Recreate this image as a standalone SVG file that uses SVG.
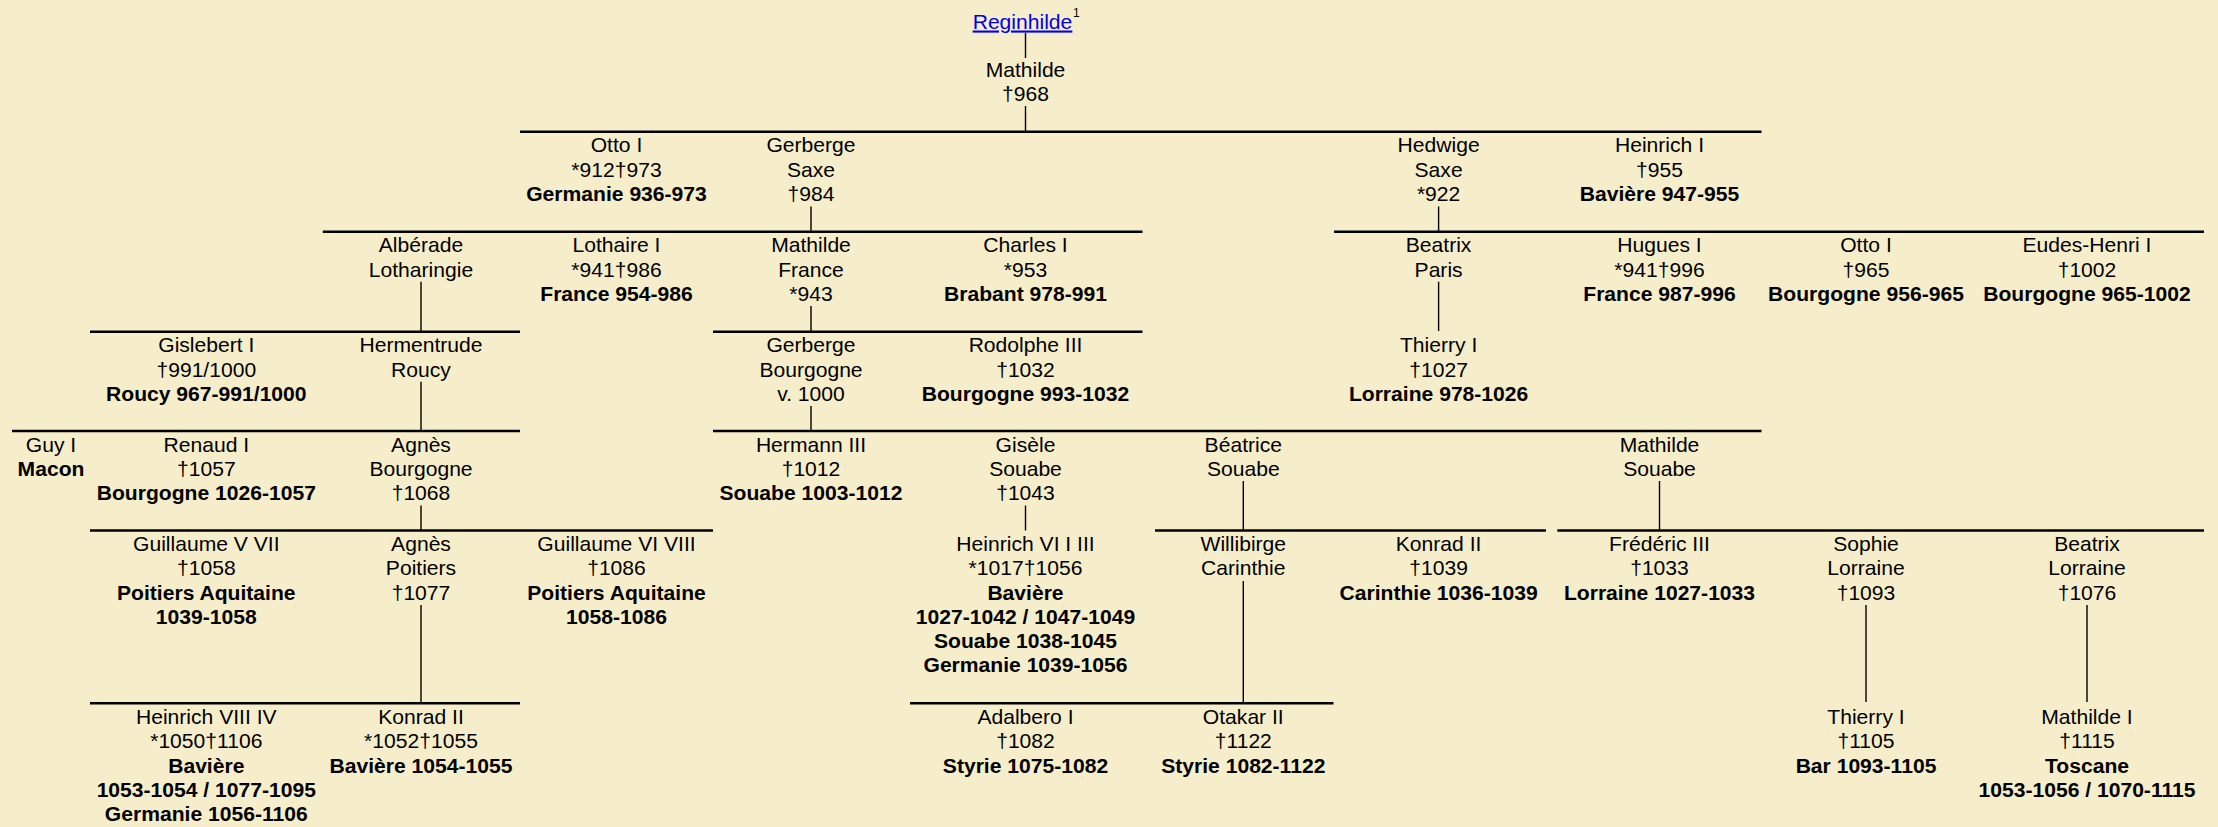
<svg xmlns="http://www.w3.org/2000/svg" width="2218" height="827" viewBox="0 0 2218 827">
<style>
text{font-family:"Liberation Sans",Arial,sans-serif;font-size:21.1px;fill:#000;text-anchor:middle}
.b{font-weight:bold}
.lk{fill:#0000EE;text-decoration:underline}
.sup{font-size:12px;text-anchor:start}
.h{stroke:#000;stroke-width:2.4;fill:none}
.v{stroke:#000;stroke-width:1.4;fill:none}
</style>
<rect width="2218" height="827" fill="#F6EECA"/>
<g id="connectors">
<path class="h" d="M520 131.7H1761.5M322.8 231.7H1142.5M1334 231.7H2204M90 331.7H520M713 331.7H1142.5M12 431H520M713 431H1761.5M90 530.5H713M1155 530.5H1546M1557.3 530.5H2204M90 703.3H520M910 703.3H1333.5"/>
<path class="v" d="M1025.5 33V58M1025.5 106V131.7M811 206.5V231.7M1438.6 206.5V231.7M421 281.7V331.7M811 306V331.7M1438.6 281.7V331M421 381.7V431M811 406V431M421 505.5V530.5M1025.5 505.5V530.5M1243.3 481V530.5M1659.5 481V530.5M421 605V703.3M1243.3 581V703.3M1866 605V702M2087 605V702"/>
</g>
<g id="reginhilde"><text x="1022.5" y="28.5" class="lk">Reginhilde</text><text x="1073" y="17" class="sup">1</text></g>
<g id="mathilde-968"><text x="1025.5" y="77">Mathilde</text><text x="1025.5" y="101.3">†968</text></g>
<g id="otto-i-germanie"><text x="616.5" y="152.4">Otto I</text><text x="616.5" y="176.6">*912†973</text><text x="616.5" y="200.9" class="b">Germanie 936-973</text></g>
<g id="gerberge-saxe"><text x="811" y="152.4">Gerberge</text><text x="811" y="176.6">Saxe</text><text x="811" y="200.9">†984</text></g>
<g id="hedwige-saxe"><text x="1438.6" y="152.4">Hedwige</text><text x="1438.6" y="176.6">Saxe</text><text x="1438.6" y="200.9">*922</text></g>
<g id="heinrich-i"><text x="1659.5" y="152.4">Heinrich I</text><text x="1659.5" y="176.6">†955</text><text x="1659.5" y="200.9" class="b">Bavière 947-955</text></g>
<g id="alberade"><text x="421" y="252.4">Albérade</text><text x="421" y="276.6">Lotharingie</text></g>
<g id="lothaire-i"><text x="616.5" y="252.4">Lothaire I</text><text x="616.5" y="276.6">*941†986</text><text x="616.5" y="300.9" class="b">France 954-986</text></g>
<g id="mathilde-france"><text x="811" y="252.4">Mathilde</text><text x="811" y="276.6">France</text><text x="811" y="300.9">*943</text></g>
<g id="charles-i"><text x="1025.5" y="252.4">Charles I</text><text x="1025.5" y="276.6">*953</text><text x="1025.5" y="300.9" class="b">Brabant 978-991</text></g>
<g id="beatrix-paris"><text x="1438.6" y="252.4">Beatrix</text><text x="1438.6" y="276.6">Paris</text></g>
<g id="hugues-i"><text x="1659.5" y="252.4">Hugues I</text><text x="1659.5" y="276.6">*941†996</text><text x="1659.5" y="300.9" class="b">France 987-996</text></g>
<g id="otto-i-bourgogne"><text x="1866" y="252.4">Otto I</text><text x="1866" y="276.6">†965</text><text x="1866" y="300.9" class="b">Bourgogne 956-965</text></g>
<g id="eudes-henri-i"><text x="2087" y="252.4">Eudes-Henri I</text><text x="2087" y="276.6">†1002</text><text x="2087" y="300.9" class="b">Bourgogne 965-1002</text></g>
<g id="gislebert-i"><text x="206.3" y="352.4">Gislebert I</text><text x="206.3" y="376.6">†991/1000</text><text x="206.3" y="400.9" class="b">Roucy 967-991/1000</text></g>
<g id="hermentrude"><text x="421" y="352.4">Hermentrude</text><text x="421" y="376.6">Roucy</text></g>
<g id="gerberge-bourgogne"><text x="811" y="352.4">Gerberge</text><text x="811" y="376.6">Bourgogne</text><text x="811" y="400.9">v. 1000</text></g>
<g id="rodolphe-iii"><text x="1025.5" y="352.4">Rodolphe III</text><text x="1025.5" y="376.6">†1032</text><text x="1025.5" y="400.9" class="b">Bourgogne 993-1032</text></g>
<g id="thierry-i-lorraine"><text x="1438.6" y="352.4">Thierry I</text><text x="1438.6" y="376.6">†1027</text><text x="1438.6" y="400.9" class="b">Lorraine 978-1026</text></g>
<g id="guy-i"><text x="51" y="451.7">Guy I</text><text x="51" y="476" class="b">Macon</text></g>
<g id="renaud-i"><text x="206.3" y="451.7">Renaud I</text><text x="206.3" y="476">†1057</text><text x="206.3" y="500.2" class="b">Bourgogne 1026-1057</text></g>
<g id="agnes-bourgogne"><text x="421" y="451.7">Agnès</text><text x="421" y="476">Bourgogne</text><text x="421" y="500.2">†1068</text></g>
<g id="hermann-iii"><text x="811" y="451.7">Hermann III</text><text x="811" y="476">†1012</text><text x="811" y="500.2" class="b">Souabe 1003-1012</text></g>
<g id="gisele-souabe"><text x="1025.5" y="451.7">Gisèle</text><text x="1025.5" y="476">Souabe</text><text x="1025.5" y="500.2">†1043</text></g>
<g id="beatrice-souabe"><text x="1243.3" y="451.7">Béatrice</text><text x="1243.3" y="476">Souabe</text></g>
<g id="mathilde-souabe"><text x="1659.5" y="451.7">Mathilde</text><text x="1659.5" y="476">Souabe</text></g>
<g id="guillaume-v-vii"><text x="206.3" y="551.2">Guillaume V VII</text><text x="206.3" y="575.4">†1058</text><text x="206.3" y="599.7" class="b">Poitiers Aquitaine</text><text x="206.3" y="623.9" class="b">1039-1058</text></g>
<g id="agnes-poitiers"><text x="421" y="551.2">Agnès</text><text x="421" y="575.4">Poitiers</text><text x="421" y="599.7">†1077</text></g>
<g id="guillaume-vi-viii"><text x="616.5" y="551.2">Guillaume VI VIII</text><text x="616.5" y="575.4">†1086</text><text x="616.5" y="599.7" class="b">Poitiers Aquitaine</text><text x="616.5" y="623.9" class="b">1058-1086</text></g>
<g id="heinrich-vi-i-iii"><text x="1025.5" y="551.2">Heinrich VI I III</text><text x="1025.5" y="575.4">*1017†1056</text><text x="1025.5" y="599.7" class="b">Bavière</text><text x="1025.5" y="623.9" class="b">1027-1042 / 1047-1049</text><text x="1025.5" y="648.2" class="b">Souabe 1038-1045</text><text x="1025.5" y="672.4" class="b">Germanie 1039-1056</text></g>
<g id="willibirge"><text x="1243.3" y="551.2">Willibirge</text><text x="1243.3" y="575.4">Carinthie</text></g>
<g id="konrad-ii-carinthie"><text x="1438.6" y="551.2">Konrad II</text><text x="1438.6" y="575.4">†1039</text><text x="1438.6" y="599.7" class="b">Carinthie 1036-1039</text></g>
<g id="frederic-iii"><text x="1659.5" y="551.2">Frédéric III</text><text x="1659.5" y="575.4">†1033</text><text x="1659.5" y="599.7" class="b">Lorraine 1027-1033</text></g>
<g id="sophie-lorraine"><text x="1866" y="551.2">Sophie</text><text x="1866" y="575.4">Lorraine</text><text x="1866" y="599.7">†1093</text></g>
<g id="beatrix-lorraine"><text x="2087" y="551.2">Beatrix</text><text x="2087" y="575.4">Lorraine</text><text x="2087" y="599.7">†1076</text></g>
<g id="heinrich-viii-iv"><text x="206.3" y="724">Heinrich VIII IV</text><text x="206.3" y="748.2">*1050†1106</text><text x="206.3" y="772.5" class="b">Bavière</text><text x="206.3" y="796.7" class="b">1053-1054 / 1077-1095</text><text x="206.3" y="821" class="b">Germanie 1056-1106</text></g>
<g id="konrad-ii-baviere"><text x="421" y="724">Konrad II</text><text x="421" y="748.2">*1052†1055</text><text x="421" y="772.5" class="b">Bavière 1054-1055</text></g>
<g id="adalbero-i"><text x="1025.5" y="724">Adalbero I</text><text x="1025.5" y="748.2">†1082</text><text x="1025.5" y="772.5" class="b">Styrie 1075-1082</text></g>
<g id="otakar-ii"><text x="1243.3" y="724">Otakar II</text><text x="1243.3" y="748.2">†1122</text><text x="1243.3" y="772.5" class="b">Styrie 1082-1122</text></g>
<g id="thierry-i-bar"><text x="1866" y="724">Thierry I</text><text x="1866" y="748.2">†1105</text><text x="1866" y="772.5" class="b">Bar 1093-1105</text></g>
<g id="mathilde-i-toscane"><text x="2087" y="724">Mathilde I</text><text x="2087" y="748.2">†1115</text><text x="2087" y="772.5" class="b">Toscane</text><text x="2087" y="796.7" class="b">1053-1056 / 1070-1115</text></g>
</svg>
